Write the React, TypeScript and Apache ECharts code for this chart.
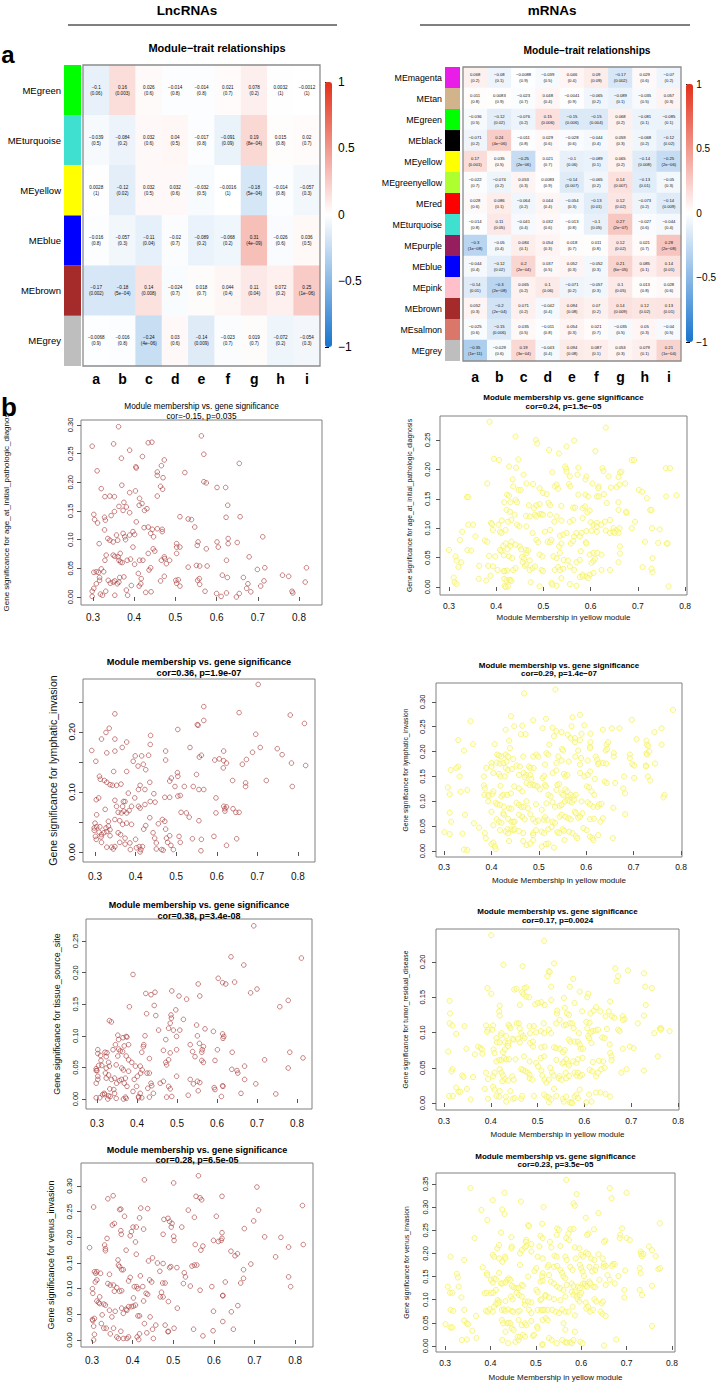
import React, { useEffect, useRef } from "react";
import * as echarts from "echarts";

const FONT = '"Liberation Sans", Arial, Helvetica, sans-serif';

// ---------------- Heatmap data ----------------
const traitLabels = ["a", "b", "c", "d", "e", "f", "g", "h", "i"];
const colorbarColors = ["#1874CD", "#FFFFFF", "#E3301A"];

const lncModules = ["MEgreen", "MEturquoise", "MEyellow", "MEblue", "MEbrown", "MEgrey"];
const lncModuleColors = ["#00FF00", "#40E0D0", "#FFFF00", "#0000FF", "#A52A2A", "#BEBEBE"];
const lncCor = [
  [-0.1, 0.16, 0.026, -0.014, -0.014, 0.021, 0.078, 0.0032, -0.0012],
  [-0.039, -0.084, 0.032, 0.04, -0.017, -0.091, 0.19, 0.015, 0.02],
  [0.0028, -0.12, 0.032, 0.032, -0.032, -0.0016, -0.18, -0.014, -0.057],
  [-0.016, -0.057, -0.11, -0.02, -0.089, -0.068, 0.31, -0.026, 0.036],
  [-0.17, -0.18, 0.14, -0.024, 0.018, 0.044, 0.11, 0.072, 0.25],
  [-0.0068, -0.016, -0.24, 0.03, -0.14, -0.023, 0.019, -0.072, -0.054],
];
const lncP = [
  ["0.06", "0.003", "0.6", "0.8", "0.8", "0.7", "0.2", "1", "1"],
  ["0.5", "0.2", "0.6", "0.5", "0.8", "0.09", "8e-04", "0.8", "0.7"],
  ["1", "0.02", "0.5", "0.6", "0.5", "1", "5e-04", "0.8", "0.3"],
  ["0.8", "0.3", "0.04", "0.7", "0.2", "0.2", "4e-09", "0.6", "0.5"],
  ["0.002", "5e-04", "0.008", "0.7", "0.7", "0.4", "0.04", "0.2", "1e-06"],
  ["0.9", "0.8", "4e-06", "0.6", "0.009", "0.7", "0.7", "0.2", "0.3"],
];

const mrnaModules = ["MEmagenta", "MEtan", "MEgreen", "MEblack", "MEyellow", "MEgreenyellow", "MEred",
  "MEturquoise", "MEpurple", "MEblue", "MEpink", "MEbrown", "MEsalmon", "MEgrey"];
const mrnaModuleColors = ["#E81EE8", "#D2B48C", "#00FF00", "#000000", "#FFFF00", "#ADFF2F", "#FF0000",
  "#40E0D0", "#961E5E", "#0000FF", "#FFC0CB", "#A52A2A", "#D9776A", "#BEBEBE"];
const mrnaCor = [
  [0.068, -0.08, -0.0088, -0.039, 0.046, 0.09, -0.17, 0.029, -0.07],
  [0.011, 0.0083, -0.023, 0.048, -0.0041, -0.065, -0.089, -0.035, 0.057],
  [-0.036, -0.12, -0.076, 0.15, -0.15, -0.15, 0.068, -0.081, -0.085],
  [-0.071, 0.24, -0.011, 0.029, -0.028, -0.044, 0.059, -0.068, -0.12],
  [0.17, 0.035, -0.25, 0.021, -0.1, -0.089, 0.065, -0.14, -0.25],
  [-0.022, -0.074, 0.053, 0.0083, -0.14, -0.065, 0.14, -0.13, -0.05],
  [0.028, 0.086, -0.064, 0.044, -0.054, -0.13, 0.12, -0.073, -0.14],
  [-0.014, 0.11, -0.041, 0.032, -0.013, -0.1, 0.27, -0.027, -0.044],
  [-0.3, -0.05, 0.084, 0.054, 0.018, 0.011, 0.12, 0.021, 0.28],
  [-0.044, -0.12, 0.2, 0.037, 0.052, -0.052, 0.21, 0.085, 0.14],
  [-0.14, -0.3, 0.065, 0.1, -0.071, -0.057, 0.1, 0.013, 0.028],
  [0.052, -0.2, 0.071, -0.042, 0.094, 0.07, 0.14, 0.12, 0.13],
  [-0.025, -0.15, 0.035, -0.011, 0.054, 0.021, -0.035, 0.05, -0.04],
  [-0.35, -0.029, 0.19, -0.043, 0.094, 0.087, 0.053, 0.079, 0.21],
];
const mrnaP = [
  ["0.2", "0.1", "0.9", "0.5", "0.4", "0.09", "0.002", "0.6", "0.2"],
  ["0.8", "0.9", "0.7", "0.4", "0.9", "0.2", "0.1", "0.5", "0.3"],
  ["0.5", "0.02", "0.2", "0.006", "0.006", "0.004", "0.2", "0.1", "0.1"],
  ["0.2", "4e-06", "0.8", "0.6", "0.6", "0.4", "0.3", "0.2", "0.02"],
  ["0.001", "0.5", "2e-06", "0.7", "0.06", "0.1", "0.2", "0.008", "2e-06"],
  ["0.7", "0.2", "0.3", "0.9", "0.007", "0.2", "0.007", "0.01", "0.3"],
  ["0.6", "0.1", "0.2", "0.4", "0.3", "0.01", "0.02", "0.2", "0.009"],
  ["0.8", "0.05", "0.4", "0.6", "0.8", "0.05", "2e-07", "0.6", "0.4"],
  ["1e-08", "0.4", "0.1", "0.3", "0.7", "0.8", "0.02", "0.7", "2e-08"],
  ["0.4", "0.02", "2e-04", "0.5", "0.3", "0.3", "6e-05", "0.1", "0.01"],
  ["0.01", "2e-08", "0.2", "0.06", "0.2", "0.3", "0.05", "0.8", "0.6"],
  ["0.3", "2e-04", "0.2", "0.4", "0.08", "0.2", "0.009", "0.02", "0.01"],
  ["0.6", "0.006", "0.5", "0.8", "0.3", "0.7", "0.5", "0.3", "0.5"],
  ["1e-11", "0.6", "3e-04", "0.4", "0.08", "0.1", "0.3", "0.1", "1e-04"],
];

// ---------------- Scatter data (module membership, gene significance) ----------------
const scatterXTicks = [0.3, 0.4, 0.5, 0.6, 0.7, 0.8];

const lncAgeData = [[0.362,0.297],[0.298,0.263],[0.350,0.267],[0.434,0.269],[0.443,0.270],[0.563,0.281],[0.569,0.249],[0.310,0.220],[0.369,0.242],[0.389,0.256],[0.420,0.245],[0.404,0.227],[0.405,0.225],[0.473,0.239],[0.466,0.229],[0.456,0.218],[0.456,0.212],[0.470,0.208],[0.523,0.217],[0.655,0.233],[0.569,0.201],[0.575,0.199],[0.601,0.191],[0.622,0.191],[0.320,0.189],[0.370,0.195],[0.403,0.185],[0.389,0.182],[0.464,0.193],[0.469,0.188],[0.456,0.176],[0.329,0.175],[0.341,0.176],[0.352,0.175],[0.375,0.165],[0.381,0.157],[0.413,0.172],[0.412,0.160],[0.419,0.163],[0.425,0.151],[0.431,0.154],[0.389,0.147],[0.373,0.151],[0.352,0.149],[0.363,0.158],[0.302,0.144],[0.304,0.135],[0.311,0.129],[0.328,0.139],[0.330,0.134],[0.344,0.142],[0.405,0.131],[0.328,0.117],[0.434,0.122],[0.424,0.121],[0.456,0.119],[0.444,0.118],[0.468,0.118],[0.468,0.114],[0.511,0.140],[0.531,0.136],[0.539,0.135],[0.547,0.122],[0.623,0.139],[0.657,0.140],[0.627,0.160],[0.712,0.105],[0.315,0.093],[0.336,0.102],[0.341,0.099],[0.349,0.096],[0.357,0.108],[0.360,0.099],[0.373,0.111],[0.377,0.105],[0.379,0.100],[0.389,0.108],[0.397,0.114],[0.401,0.109],[0.366,0.076],[0.363,0.064],[0.361,0.070],[0.332,0.073],[0.349,0.073],[0.353,0.071],[0.329,0.064],[0.367,0.061],[0.371,0.060],[0.383,0.064],[0.391,0.066],[0.401,0.057],[0.413,0.064],[0.421,0.064],[0.397,0.087],[0.434,0.076],[0.446,0.084],[0.450,0.080],[0.440,0.111],[0.447,0.105],[0.473,0.070],[0.466,0.064],[0.474,0.067],[0.478,0.058],[0.486,0.064],[0.503,0.093],[0.503,0.087],[0.503,0.076],[0.511,0.087],[0.555,0.096],[0.553,0.090],[0.575,0.084],[0.601,0.096],[0.604,0.087],[0.628,0.102],[0.628,0.093],[0.624,0.064],[0.650,0.095],[0.679,0.070],[0.531,0.052],[0.551,0.055],[0.559,0.054],[0.577,0.054],[0.302,0.043],[0.308,0.044],[0.313,0.043],[0.320,0.049],[0.326,0.044],[0.316,0.034],[0.316,0.029],[0.308,0.023],[0.302,0.015],[0.298,0.010],[0.298,0.001],[0.318,0.005],[0.323,0.003],[0.331,0.010],[0.342,0.024],[0.353,0.028],[0.337,0.029],[0.349,0.026],[0.359,0.023],[0.363,0.026],[0.353,0.003],[0.365,0.034],[0.375,0.035],[0.381,0.012],[0.384,0.003],[0.393,0.020],[0.410,0.041],[0.417,0.032],[0.412,0.019],[0.416,0.023],[0.428,0.008],[0.441,0.009],[0.436,0.047],[0.440,0.051],[0.464,0.028],[0.473,0.036],[0.501,0.029],[0.503,0.024],[0.507,0.030],[0.511,0.019],[0.554,0.029],[0.558,0.032],[0.559,0.022],[0.572,0.010],[0.600,0.006],[0.611,0.001],[0.614,0.038],[0.626,0.034],[0.624,0.007],[0.655,0.006],[0.648,0.000],[0.665,0.034],[0.676,0.023],[0.683,0.009],[0.673,0.015],[0.699,0.048],[0.707,0.019],[0.715,0.028],[0.717,0.051],[0.760,0.038],[0.775,0.036],[0.783,0.010],[0.785,0.007],[0.818,0.051],[0.815,0.026]];

const lncLymphData = [[0.292,0.169],[0.302,0.151],[0.349,0.230],[0.316,0.188],[0.327,0.199],[0.335,0.206],[0.349,0.188],[0.329,0.165],[0.349,0.168],[0.367,0.174],[0.378,0.183],[0.378,0.134],[0.346,0.134],[0.311,0.126],[0.313,0.121],[0.323,0.119],[0.329,0.116],[0.337,0.112],[0.343,0.111],[0.353,0.111],[0.364,0.113],[0.309,0.090],[0.303,0.087],[0.325,0.071],[0.304,0.062],[0.349,0.086],[0.353,0.076],[0.370,0.084],[0.374,0.084],[0.368,0.076],[0.382,0.098],[0.390,0.076],[0.398,0.090],[0.407,0.076],[0.411,0.073],[0.399,0.160],[0.415,0.160],[0.432,0.161],[0.394,0.151],[0.406,0.143],[0.419,0.146],[0.425,0.137],[0.437,0.194],[0.436,0.179],[0.435,0.116],[0.411,0.111],[0.407,0.104],[0.423,0.104],[0.445,0.097],[0.436,0.084],[0.448,0.083],[0.423,0.079],[0.357,0.066],[0.365,0.065],[0.371,0.068],[0.378,0.065],[0.384,0.069],[0.333,0.051],[0.349,0.054],[0.361,0.052],[0.368,0.046],[0.378,0.048],[0.390,0.046],[0.300,0.048],[0.304,0.042],[0.312,0.042],[0.298,0.040],[0.298,0.036],[0.310,0.033],[0.316,0.029],[0.315,0.025],[0.301,0.026],[0.303,0.021],[0.327,0.040],[0.333,0.043],[0.337,0.037],[0.322,0.032],[0.329,0.034],[0.337,0.027],[0.316,0.016],[0.329,0.008],[0.341,0.008],[0.345,0.005],[0.349,0.009],[0.357,0.032],[0.363,0.029],[0.374,0.023],[0.361,0.016],[0.374,0.013],[0.386,0.015],[0.387,0.004],[0.400,0.021],[0.402,0.007],[0.409,0.009],[0.413,0.004],[0.417,0.009],[0.411,0.000],[0.420,0.038],[0.425,0.044],[0.435,0.057],[0.443,0.032],[0.447,0.023],[0.451,0.015],[0.451,0.005],[0.464,0.004],[0.468,0.003],[0.456,0.047],[0.466,0.054],[0.472,0.051],[0.474,0.038],[0.476,0.023],[0.479,0.016],[0.484,0.027],[0.487,0.011],[0.493,0.004],[0.472,0.091],[0.484,0.091],[0.484,0.118],[0.488,0.123],[0.474,0.153],[0.474,0.168],[0.503,0.132],[0.504,0.126],[0.497,0.109],[0.504,0.093],[0.510,0.094],[0.504,0.204],[0.520,0.109],[0.512,0.066],[0.507,0.026],[0.510,0.016],[0.525,0.065],[0.532,0.058],[0.534,0.174],[0.542,0.109],[0.550,0.129],[0.557,0.158],[0.552,0.212],[0.554,0.211],[0.562,0.161],[0.568,0.242],[0.568,0.219],[0.556,0.104],[0.568,0.104],[0.556,0.052],[0.540,0.022],[0.562,0.021],[0.561,0.002],[0.595,0.153],[0.606,0.155],[0.617,0.152],[0.617,0.168],[0.616,0.140],[0.624,0.148],[0.598,0.090],[0.598,0.065],[0.617,0.076],[0.620,0.072],[0.620,0.068],[0.624,0.075],[0.593,0.026],[0.624,0.011],[0.639,0.119],[0.640,0.072],[0.647,0.066],[0.655,0.066],[0.649,0.022],[0.655,0.232],[0.663,0.146],[0.673,0.154],[0.671,0.115],[0.671,0.109],[0.688,0.166],[0.696,0.196],[0.702,0.279],[0.707,0.174],[0.722,0.119],[0.749,0.172],[0.761,0.162],[0.781,0.228],[0.784,0.148],[0.786,0.109],[0.816,0.214],[0.819,0.144]];

const lncTissueData = [[0.298,0.002],[0.307,0.002],[0.314,0.007],[0.298,0.025],[0.302,0.031],[0.302,0.036],[0.300,0.045],[0.298,0.045],[0.298,0.048],[0.304,0.053],[0.312,0.053],[0.302,0.078],[0.302,0.072],[0.309,0.069],[0.320,0.074],[0.325,0.073],[0.323,0.067],[0.310,0.061],[0.323,0.049],[0.321,0.041],[0.323,0.033],[0.319,0.007],[0.329,0.005],[0.327,0.000],[0.318,0.009],[0.333,0.004],[0.331,0.124],[0.336,0.122],[0.329,0.058],[0.331,0.052],[0.329,0.038],[0.336,0.031],[0.332,0.016],[0.342,0.015],[0.344,0.009],[0.348,0.001],[0.340,0.078],[0.346,0.086],[0.352,0.101],[0.354,0.094],[0.348,0.054],[0.352,0.068],[0.354,0.079],[0.358,0.076],[0.344,0.033],[0.349,0.025],[0.356,0.029],[0.365,0.097],[0.368,0.084],[0.373,0.099],[0.375,0.098],[0.379,0.086],[0.364,0.075],[0.373,0.068],[0.379,0.062],[0.362,0.049],[0.366,0.046],[0.371,0.033],[0.379,0.044],[0.361,0.031],[0.368,0.025],[0.375,0.020],[0.366,0.000],[0.373,0.001],[0.371,0.003],[0.381,0.146],[0.390,0.197],[0.387,0.058],[0.393,0.031],[0.390,0.012],[0.396,0.052],[0.401,0.036],[0.399,0.020],[0.404,0.004],[0.408,0.009],[0.412,0.002],[0.404,0.002],[0.408,0.052],[0.413,0.046],[0.409,0.041],[0.412,0.074],[0.416,0.083],[0.417,0.086],[0.420,0.100],[0.422,0.167],[0.424,0.135],[0.435,0.165],[0.445,0.169],[0.443,0.148],[0.447,0.132],[0.425,0.041],[0.431,0.041],[0.435,0.025],[0.437,0.021],[0.441,0.009],[0.431,0.003],[0.427,0.017],[0.431,0.064],[0.454,0.109],[0.458,0.025],[0.466,0.028],[0.466,0.077],[0.472,0.094],[0.474,0.054],[0.472,0.058],[0.479,0.062],[0.483,0.073],[0.479,0.020],[0.483,0.016],[0.474,0.003],[0.487,0.004],[0.487,0.171],[0.485,0.133],[0.486,0.128],[0.483,0.120],[0.479,0.112],[0.491,0.109],[0.497,0.141],[0.499,0.099],[0.499,0.078],[0.505,0.163],[0.507,0.109],[0.499,0.036],[0.516,0.126],[0.524,0.158],[0.528,0.006],[0.533,0.086],[0.539,0.075],[0.545,0.067],[0.533,0.031],[0.541,0.024],[0.551,0.028],[0.553,0.182],[0.557,0.163],[0.549,0.117],[0.551,0.100],[0.556,0.088],[0.553,0.013],[0.557,0.026],[0.562,0.074],[0.563,0.078],[0.566,0.083],[0.562,0.061],[0.566,0.058],[0.570,0.111],[0.591,0.107],[0.595,0.061],[0.593,0.018],[0.595,0.015],[0.603,0.191],[0.601,0.078],[0.614,0.103],[0.617,0.099],[0.615,0.096],[0.614,0.184],[0.622,0.182],[0.614,0.021],[0.615,0.020],[0.611,0.004],[0.635,0.225],[0.638,0.074],[0.637,0.047],[0.644,0.185],[0.650,0.045],[0.652,0.041],[0.660,0.009],[0.667,0.212],[0.669,0.052],[0.669,0.031],[0.684,0.168],[0.700,0.174],[0.697,0.024],[0.719,0.062],[0.747,0.008],[0.757,0.146],[0.778,0.156],[0.778,0.049],[0.782,0.074],[0.811,0.223],[0.815,0.065],[0.692,0.274]];

const lncVenusData = [[0.294,0.180],[0.301,0.100],[0.302,0.091],[0.304,0.259],[0.306,0.133],[0.312,0.133],[0.309,0.130],[0.308,0.113],[0.312,0.117],[0.312,0.076],[0.316,0.073],[0.319,0.071],[0.301,0.040],[0.302,0.038],[0.306,0.042],[0.304,0.027],[0.306,0.011],[0.304,0.000],[0.319,0.084],[0.321,0.130],[0.323,0.032],[0.325,0.049],[0.329,0.070],[0.333,0.068],[0.329,0.023],[0.335,0.023],[0.331,0.185],[0.333,0.178],[0.333,0.174],[0.337,0.198],[0.339,0.275],[0.352,0.281],[0.339,0.110],[0.345,0.107],[0.343,0.128],[0.343,0.058],[0.349,0.045],[0.345,0.012],[0.350,0.224],[0.355,0.227],[0.353,0.107],[0.355,0.095],[0.361,0.102],[0.353,0.023],[0.357,0.056],[0.364,0.156],[0.365,0.146],[0.368,0.143],[0.368,0.254],[0.371,0.255],[0.371,0.213],[0.372,0.206],[0.368,0.095],[0.373,0.096],[0.361,0.006],[0.365,0.003],[0.371,0.017],[0.373,0.062],[0.377,0.052],[0.386,0.058],[0.384,0.060],[0.373,0.137],[0.377,0.137],[0.380,0.241],[0.384,0.175],[0.377,0.003],[0.386,0.003],[0.390,0.006],[0.390,0.065],[0.397,0.065],[0.394,0.203],[0.397,0.211],[0.394,0.122],[0.390,0.115],[0.401,0.220],[0.409,0.220],[0.404,0.104],[0.410,0.104],[0.413,0.100],[0.402,0.082],[0.407,0.191],[0.409,0.167],[0.402,0.066],[0.407,0.068],[0.413,0.047],[0.417,0.047],[0.411,0.006],[0.415,0.001],[0.417,0.012],[0.417,0.238],[0.420,0.257],[0.419,0.125],[0.425,0.104],[0.427,0.216],[0.429,0.312],[0.427,0.076],[0.429,0.032],[0.437,0.256],[0.433,0.091],[0.437,0.089],[0.435,0.014],[0.439,0.154],[0.442,0.117],[0.443,0.045],[0.447,0.113],[0.449,0.160],[0.449,0.021],[0.451,0.003],[0.457,0.029],[0.461,0.150],[0.467,0.134],[0.468,0.084],[0.475,0.084],[0.471,0.093],[0.475,0.149],[0.474,0.111],[0.480,0.111],[0.475,0.206],[0.477,0.235],[0.480,0.029],[0.487,0.237],[0.491,0.231],[0.497,0.227],[0.495,0.220],[0.488,0.075],[0.488,0.017],[0.487,0.016],[0.491,0.141],[0.494,0.143],[0.501,0.306],[0.501,0.202],[0.502,0.194],[0.502,0.023],[0.509,0.141],[0.510,0.062],[0.521,0.220],[0.527,0.131],[0.530,0.123],[0.525,0.110],[0.537,0.253],[0.542,0.105],[0.546,0.144],[0.552,0.146],[0.552,0.239],[0.554,0.186],[0.550,0.021],[0.556,0.280],[0.558,0.146],[0.562,0.320],[0.566,0.277],[0.570,0.273],[0.566,0.097],[0.568,0.175],[0.573,0.183],[0.573,0.008],[0.595,0.104],[0.599,0.194],[0.599,0.056],[0.598,0.018],[0.606,0.241],[0.611,0.192],[0.620,0.198],[0.618,0.194],[0.620,0.280],[0.620,0.209],[0.622,0.087],[0.622,0.086],[0.622,0.036],[0.628,0.113],[0.642,0.173],[0.643,0.055],[0.648,0.021],[0.652,0.164],[0.658,0.168],[0.659,0.067],[0.666,0.111],[0.673,0.137],[0.673,0.120],[0.675,0.217],[0.691,0.148],[0.698,0.232],[0.706,0.298],[0.710,0.253],[0.725,0.201],[0.752,0.162],[0.765,0.200],[0.784,0.181],[0.784,0.123],[0.789,0.104],[0.818,0.262],[0.820,0.186]];

const mrnaAgeData = [[0.386,0.281],[0.632,0.271],[0.441,0.256],[0.484,0.250],[0.487,0.244],[0.565,0.249],[0.512,0.233],[0.533,0.227],[0.549,0.239],[0.610,0.231],[0.395,0.218],[0.406,0.216],[0.447,0.217],[0.458,0.191],[0.427,0.205],[0.442,0.203],[0.687,0.216],[0.692,0.216],[0.759,0.202],[0.768,0.202],[0.435,0.183],[0.381,0.176],[0.519,0.195],[0.546,0.205],[0.548,0.201],[0.549,0.196],[0.574,0.203],[0.572,0.191],[0.556,0.188],[0.591,0.188],[0.589,0.183],[0.625,0.202],[0.627,0.197],[0.604,0.176],[0.638,0.188],[0.659,0.187],[0.662,0.195],[0.665,0.196],[0.643,0.169],[0.655,0.170],[0.661,0.174],[0.673,0.176],[0.617,0.171],[0.616,0.168],[0.436,0.171],[0.447,0.165],[0.452,0.165],[0.464,0.176],[0.478,0.175],[0.492,0.168],[0.499,0.160],[0.507,0.158],[0.524,0.171],[0.528,0.174],[0.531,0.167],[0.554,0.175],[0.557,0.171],[0.574,0.157],[0.589,0.157],[0.595,0.154],[0.613,0.154],[0.617,0.154],[0.628,0.158],[0.702,0.165],[0.709,0.162],[0.719,0.151],[0.760,0.154],[0.782,0.156],[0.338,0.153],[0.341,0.153],[0.423,0.157],[0.427,0.155],[0.417,0.144],[0.430,0.144],[0.441,0.148],[0.444,0.144],[0.469,0.139],[0.480,0.134],[0.485,0.139],[0.492,0.141],[0.511,0.143],[0.514,0.139],[0.538,0.138],[0.563,0.135],[0.567,0.135],[0.583,0.134],[0.588,0.137],[0.593,0.127],[0.598,0.130],[0.634,0.143],[0.659,0.144],[0.659,0.131],[0.676,0.126],[0.675,0.128],[0.726,0.131],[0.729,0.131],[0.694,0.111],[0.422,0.131],[0.429,0.128],[0.412,0.113],[0.439,0.123],[0.463,0.121],[0.471,0.120],[0.482,0.123],[0.485,0.120],[0.492,0.124],[0.496,0.124],[0.499,0.123],[0.514,0.123],[0.528,0.120],[0.523,0.111],[0.538,0.113],[0.556,0.111],[0.563,0.114],[0.583,0.117],[0.600,0.110],[0.606,0.106],[0.613,0.109],[0.622,0.106],[0.630,0.111],[0.641,0.114],[0.648,0.100],[0.661,0.100],[0.687,0.100],[0.730,0.100],[0.746,0.098],[0.389,0.109],[0.391,0.107],[0.393,0.097],[0.405,0.106],[0.408,0.094],[0.411,0.092],[0.420,0.097],[0.425,0.111],[0.432,0.114],[0.351,0.106],[0.341,0.106],[0.444,0.106],[0.449,0.103],[0.464,0.103],[0.477,0.092],[0.503,0.094],[0.514,0.097],[0.535,0.087],[0.542,0.089],[0.549,0.092],[0.565,0.086],[0.570,0.092],[0.581,0.092],[0.591,0.095],[0.602,0.096],[0.613,0.094],[0.613,0.103],[0.632,0.096],[0.641,0.092],[0.655,0.096],[0.659,0.092],[0.648,0.094],[0.651,0.092],[0.328,0.094],[0.356,0.086],[0.376,0.079],[0.381,0.077],[0.323,0.080],[0.715,0.077],[0.743,0.075],[0.761,0.074],[0.415,0.070],[0.420,0.074],[0.424,0.064],[0.430,0.070],[0.432,0.077],[0.441,0.072],[0.450,0.069],[0.453,0.064],[0.463,0.063],[0.464,0.058],[0.468,0.062],[0.485,0.080],[0.489,0.076],[0.509,0.077],[0.514,0.076],[0.517,0.080],[0.533,0.069],[0.538,0.074],[0.558,0.074],[0.563,0.078],[0.577,0.086],[0.590,0.076],[0.591,0.074],[0.579,0.061],[0.598,0.055],[0.606,0.058],[0.614,0.058],[0.623,0.055],[0.662,0.069],[0.411,0.061],[0.408,0.063],[0.416,0.054],[0.339,0.063],[0.347,0.062],[0.385,0.053],[0.398,0.052],[0.427,0.052],[0.434,0.049],[0.455,0.051],[0.459,0.048],[0.471,0.045],[0.492,0.055],[0.498,0.052],[0.521,0.052],[0.528,0.049],[0.535,0.058],[0.543,0.046],[0.552,0.045],[0.570,0.042],[0.577,0.046],[0.602,0.041],[0.606,0.044],[0.609,0.048],[0.659,0.042],[0.662,0.057],[0.731,0.049],[0.314,0.052],[0.316,0.045],[0.320,0.034],[0.326,0.042],[0.364,0.036],[0.383,0.036],[0.393,0.035],[0.403,0.029],[0.418,0.027],[0.423,0.028],[0.436,0.029],[0.441,0.032],[0.456,0.042],[0.461,0.036],[0.464,0.038],[0.471,0.029],[0.477,0.032],[0.482,0.035],[0.496,0.029],[0.499,0.027],[0.524,0.029],[0.531,0.034],[0.535,0.029],[0.542,0.031],[0.556,0.035],[0.565,0.029],[0.583,0.021],[0.591,0.018],[0.598,0.021],[0.606,0.024],[0.623,0.029],[0.641,0.029],[0.710,0.034],[0.729,0.031],[0.731,0.025],[0.363,0.014],[0.310,0.016],[0.312,0.008],[0.316,0.005],[0.379,0.011],[0.388,0.019],[0.416,0.027],[0.417,0.014],[0.422,0.011],[0.428,0.012],[0.418,0.002],[0.425,0.001],[0.420,0.000],[0.430,0.012],[0.432,0.010],[0.473,0.008],[0.492,0.001],[0.517,0.007],[0.528,0.002],[0.519,0.004],[0.538,0.015],[0.556,0.005],[0.570,0.002],[0.577,0.017],[0.583,0.018],[0.595,0.015],[0.765,0.001],[0.763,0.074],[0.300,0.063]];

const mrnaLymphData = [[0.535,0.325],[0.469,0.317],[0.783,0.284],[0.441,0.271],[0.571,0.269],[0.587,0.274],[0.515,0.266],[0.696,0.264],[0.356,0.261],[0.488,0.263],[0.465,0.252],[0.448,0.251],[0.508,0.247],[0.529,0.248],[0.537,0.241],[0.548,0.239],[0.569,0.251],[0.596,0.253],[0.635,0.244],[0.654,0.247],[0.670,0.247],[0.759,0.247],[0.744,0.239],[0.430,0.244],[0.462,0.235],[0.472,0.235],[0.532,0.231],[0.561,0.234],[0.567,0.227],[0.576,0.227],[0.590,0.236],[0.609,0.236],[0.330,0.223],[0.361,0.215],[0.407,0.215],[0.437,0.222],[0.522,0.214],[0.576,0.219],[0.587,0.223],[0.609,0.219],[0.608,0.210],[0.643,0.214],[0.646,0.219],[0.706,0.225],[0.727,0.222],[0.728,0.214],[0.731,0.211],[0.759,0.214],[0.342,0.202],[0.439,0.207],[0.412,0.194],[0.416,0.192],[0.421,0.190],[0.430,0.194],[0.435,0.190],[0.446,0.185],[0.467,0.190],[0.488,0.190],[0.495,0.194],[0.499,0.190],[0.516,0.197],[0.520,0.194],[0.549,0.205],[0.551,0.202],[0.583,0.202],[0.608,0.207],[0.641,0.202],[0.644,0.205],[0.658,0.197],[0.658,0.190],[0.692,0.194],[0.692,0.187],[0.727,0.197],[0.728,0.194],[0.733,0.200],[0.541,0.190],[0.548,0.182],[0.577,0.190],[0.589,0.187],[0.563,0.180],[0.603,0.182],[0.620,0.190],[0.623,0.184],[0.400,0.177],[0.411,0.178],[0.418,0.176],[0.425,0.177],[0.432,0.180],[0.330,0.170],[0.326,0.167],[0.314,0.163],[0.389,0.167],[0.384,0.150],[0.400,0.170],[0.453,0.172],[0.460,0.170],[0.479,0.170],[0.482,0.167],[0.489,0.167],[0.513,0.174],[0.537,0.177],[0.587,0.174],[0.625,0.175],[0.627,0.178],[0.635,0.177],[0.642,0.176],[0.697,0.175],[0.701,0.172],[0.726,0.172],[0.726,0.170],[0.745,0.176],[0.333,0.150],[0.404,0.157],[0.430,0.167],[0.435,0.163],[0.443,0.165],[0.416,0.155],[0.419,0.150],[0.428,0.150],[0.458,0.153],[0.468,0.157],[0.473,0.153],[0.470,0.149],[0.482,0.153],[0.484,0.145],[0.508,0.147],[0.511,0.151],[0.529,0.157],[0.537,0.162],[0.553,0.155],[0.556,0.150],[0.560,0.153],[0.587,0.157],[0.596,0.150],[0.608,0.160],[0.603,0.153],[0.618,0.145],[0.639,0.140],[0.643,0.137],[0.661,0.137],[0.680,0.150],[0.701,0.147],[0.730,0.150],[0.735,0.142],[0.308,0.128],[0.312,0.114],[0.335,0.119],[0.349,0.123],[0.384,0.132],[0.386,0.126],[0.385,0.113],[0.393,0.113],[0.394,0.110],[0.402,0.115],[0.404,0.120],[0.419,0.131],[0.421,0.110],[0.425,0.113],[0.433,0.113],[0.441,0.116],[0.448,0.130],[0.458,0.126],[0.465,0.120],[0.474,0.137],[0.480,0.133],[0.488,0.133],[0.492,0.132],[0.497,0.130],[0.502,0.124],[0.513,0.133],[0.515,0.130],[0.520,0.113],[0.525,0.110],[0.537,0.123],[0.539,0.133],[0.543,0.135],[0.548,0.116],[0.551,0.113],[0.556,0.124],[0.560,0.120],[0.562,0.110],[0.567,0.113],[0.573,0.110],[0.578,0.113],[0.601,0.130],[0.606,0.128],[0.611,0.120],[0.617,0.113],[0.678,0.126],[0.682,0.116],[0.765,0.113],[0.763,0.108],[0.393,0.100],[0.409,0.097],[0.412,0.094],[0.418,0.093],[0.426,0.089],[0.437,0.086],[0.442,0.085],[0.453,0.097],[0.458,0.093],[0.463,0.089],[0.468,0.089],[0.474,0.100],[0.477,0.086],[0.494,0.094],[0.506,0.083],[0.516,0.096],[0.529,0.098],[0.534,0.089],[0.544,0.091],[0.548,0.093],[0.555,0.100],[0.560,0.103],[0.565,0.100],[0.570,0.098],[0.574,0.103],[0.590,0.100],[0.603,0.098],[0.608,0.094],[0.615,0.089],[0.624,0.089],[0.627,0.094],[0.632,0.095],[0.657,0.087],[0.312,0.077],[0.315,0.059],[0.344,0.073],[0.363,0.056],[0.374,0.047],[0.386,0.036],[0.400,0.079],[0.411,0.064],[0.416,0.059],[0.421,0.057],[0.425,0.076],[0.426,0.073],[0.435,0.065],[0.442,0.059],[0.446,0.059],[0.449,0.059],[0.458,0.073],[0.465,0.069],[0.470,0.064],[0.482,0.074],[0.488,0.064],[0.493,0.059],[0.499,0.061],[0.511,0.063],[0.513,0.068],[0.518,0.063],[0.529,0.059],[0.534,0.057],[0.544,0.069],[0.548,0.073],[0.556,0.069],[0.562,0.066],[0.567,0.064],[0.576,0.079],[0.578,0.076],[0.583,0.067],[0.587,0.069],[0.592,0.076],[0.608,0.064],[0.616,0.065],[0.630,0.059],[0.635,0.066],[0.682,0.074],[0.404,0.052],[0.418,0.042],[0.430,0.039],[0.435,0.036],[0.434,0.044],[0.442,0.044],[0.446,0.042],[0.449,0.044],[0.458,0.040],[0.467,0.036],[0.488,0.036],[0.488,0.032],[0.494,0.042],[0.506,0.039],[0.511,0.036],[0.520,0.044],[0.527,0.048],[0.539,0.038],[0.543,0.036],[0.550,0.044],[0.553,0.041],[0.564,0.039],[0.571,0.036],[0.594,0.046],[0.601,0.042],[0.608,0.029],[0.613,0.026],[0.625,0.032],[0.656,0.026],[0.301,0.038],[0.312,0.034],[0.339,0.035],[0.342,0.003],[0.349,0.002],[0.388,0.026],[0.400,0.014],[0.404,0.017],[0.407,0.009],[0.409,0.004],[0.437,0.020],[0.467,0.020],[0.474,0.012],[0.482,0.015],[0.488,0.022],[0.506,0.009],[0.515,0.014],[0.520,0.015],[0.532,0.007],[0.554,0.022],[0.578,0.030],[0.581,0.026],[0.615,0.022]];

const mrnaTumorData = [[0.401,0.238],[0.514,0.230],[0.535,0.198],[0.427,0.196],[0.468,0.194],[0.524,0.187],[0.526,0.186],[0.521,0.180],[0.576,0.176],[0.666,0.191],[0.693,0.188],[0.672,0.180],[0.669,0.173],[0.727,0.184],[0.730,0.165],[0.744,0.163],[0.393,0.163],[0.401,0.155],[0.450,0.161],[0.455,0.162],[0.472,0.163],[0.476,0.164],[0.467,0.157],[0.470,0.154],[0.476,0.151],[0.482,0.150],[0.529,0.165],[0.569,0.165],[0.556,0.149],[0.590,0.158],[0.608,0.155],[0.606,0.150],[0.655,0.144],[0.312,0.145],[0.313,0.127],[0.419,0.138],[0.462,0.139],[0.495,0.140],[0.501,0.142],[0.508,0.143],[0.515,0.139],[0.529,0.146],[0.558,0.135],[0.541,0.127],[0.563,0.127],[0.567,0.125],[0.542,0.131],[0.579,0.142],[0.595,0.130],[0.613,0.127],[0.620,0.131],[0.625,0.136],[0.634,0.130],[0.645,0.123],[0.652,0.130],[0.659,0.123],[0.664,0.121],[0.682,0.123],[0.686,0.119],[0.727,0.124],[0.731,0.139],[0.418,0.130],[0.419,0.124],[0.312,0.113],[0.318,0.110],[0.326,0.098],[0.344,0.109],[0.390,0.110],[0.394,0.104],[0.392,0.101],[0.405,0.110],[0.421,0.096],[0.423,0.099],[0.438,0.111],[0.440,0.109],[0.442,0.106],[0.433,0.095],[0.455,0.113],[0.460,0.113],[0.465,0.099],[0.469,0.095],[0.472,0.092],[0.462,0.106],[0.484,0.099],[0.483,0.109],[0.492,0.109],[0.497,0.100],[0.507,0.102],[0.513,0.113],[0.514,0.099],[0.524,0.104],[0.529,0.099],[0.540,0.113],[0.547,0.118],[0.556,0.110],[0.561,0.111],[0.569,0.113],[0.574,0.113],[0.577,0.106],[0.588,0.099],[0.604,0.115],[0.611,0.114],[0.606,0.106],[0.613,0.100],[0.618,0.102],[0.624,0.103],[0.629,0.104],[0.638,0.093],[0.643,0.092],[0.648,0.105],[0.672,0.104],[0.675,0.102],[0.682,0.118],[0.714,0.113],[0.749,0.099],[0.761,0.106],[0.764,0.106],[0.763,0.104],[0.782,0.102],[0.403,0.104],[0.412,0.092],[0.413,0.086],[0.419,0.086],[0.430,0.086],[0.437,0.085],[0.437,0.081],[0.446,0.091],[0.449,0.090],[0.458,0.091],[0.462,0.086],[0.484,0.085],[0.490,0.087],[0.490,0.080],[0.508,0.079],[0.515,0.080],[0.535,0.079],[0.540,0.078],[0.547,0.077],[0.554,0.072],[0.558,0.075],[0.567,0.090],[0.570,0.087],[0.579,0.087],[0.586,0.087],[0.590,0.083],[0.592,0.077],[0.597,0.077],[0.608,0.095],[0.610,0.092],[0.615,0.085],[0.654,0.083],[0.655,0.071],[0.658,0.066],[0.658,0.061],[0.682,0.077],[0.697,0.080],[0.705,0.078],[0.309,0.073],[0.348,0.077],[0.366,0.069],[0.373,0.080],[0.378,0.078],[0.381,0.076],[0.382,0.070],[0.406,0.076],[0.408,0.071],[0.412,0.059],[0.418,0.061],[0.423,0.061],[0.428,0.064],[0.433,0.062],[0.426,0.072],[0.430,0.076],[0.439,0.062],[0.453,0.062],[0.471,0.066],[0.483,0.059],[0.497,0.057],[0.501,0.052],[0.507,0.064],[0.514,0.066],[0.527,0.050],[0.540,0.061],[0.553,0.056],[0.556,0.058],[0.561,0.062],[0.565,0.056],[0.567,0.053],[0.576,0.059],[0.583,0.057],[0.586,0.062],[0.596,0.064],[0.618,0.058],[0.631,0.060],[0.640,0.059],[0.318,0.048],[0.316,0.045],[0.339,0.039],[0.342,0.037],[0.362,0.037],[0.390,0.043],[0.394,0.034],[0.405,0.038],[0.408,0.043],[0.419,0.048],[0.423,0.043],[0.426,0.039],[0.425,0.031],[0.430,0.034],[0.437,0.032],[0.446,0.038],[0.449,0.033],[0.465,0.048],[0.469,0.047],[0.474,0.045],[0.479,0.043],[0.483,0.040],[0.483,0.035],[0.489,0.033],[0.508,0.046],[0.510,0.039],[0.515,0.033],[0.519,0.029],[0.524,0.033],[0.531,0.043],[0.534,0.039],[0.545,0.035],[0.547,0.038],[0.551,0.033],[0.560,0.043],[0.561,0.035],[0.567,0.038],[0.579,0.043],[0.583,0.039],[0.586,0.043],[0.591,0.038],[0.595,0.040],[0.611,0.047],[0.617,0.045],[0.625,0.038],[0.629,0.043],[0.636,0.048],[0.643,0.050],[0.679,0.043],[0.690,0.048],[0.727,0.046],[0.757,0.066],[0.311,0.010],[0.319,0.010],[0.326,0.022],[0.331,0.016],[0.335,0.016],[0.349,0.020],[0.357,0.005],[0.387,0.020],[0.394,0.006],[0.405,0.023],[0.408,0.019],[0.412,0.010],[0.418,0.009],[0.419,0.017],[0.432,0.009],[0.433,0.002],[0.442,0.017],[0.447,0.006],[0.451,0.007],[0.465,0.006],[0.467,0.010],[0.492,0.010],[0.514,0.012],[0.519,0.009],[0.524,0.008],[0.524,0.001],[0.529,0.005],[0.535,0.020],[0.540,0.010],[0.554,0.006],[0.556,0.002],[0.561,0.009],[0.569,0.001],[0.572,0.001],[0.574,0.000],[0.579,0.009],[0.583,0.012],[0.586,0.007],[0.590,0.019],[0.604,0.001],[0.610,0.012],[0.615,0.002],[0.625,0.015],[0.634,0.015],[0.645,0.013],[0.655,0.009]];

const mrnaVenusData = [[0.567,0.359],[0.356,0.341],[0.663,0.341],[0.431,0.331],[0.700,0.331],[0.590,0.328],[0.405,0.315],[0.467,0.312],[0.667,0.319],[0.517,0.300],[0.583,0.308],[0.586,0.303],[0.380,0.294],[0.426,0.295],[0.431,0.285],[0.638,0.287],[0.393,0.272],[0.610,0.277],[0.514,0.264],[0.483,0.261],[0.485,0.259],[0.547,0.254],[0.576,0.252],[0.583,0.253],[0.628,0.252],[0.546,0.240],[0.551,0.251],[0.616,0.243],[0.613,0.240],[0.572,0.243],[0.423,0.245],[0.446,0.235],[0.365,0.233],[0.510,0.238],[0.515,0.233],[0.479,0.229],[0.478,0.225],[0.567,0.233],[0.573,0.229],[0.531,0.225],[0.653,0.228],[0.650,0.225],[0.707,0.229],[0.700,0.233],[0.773,0.265],[0.690,0.254],[0.686,0.240],[0.685,0.233],[0.731,0.204],[0.732,0.199],[0.734,0.194],[0.749,0.215],[0.756,0.207],[0.737,0.199],[0.764,0.194],[0.415,0.211],[0.419,0.218],[0.447,0.215],[0.446,0.211],[0.476,0.213],[0.479,0.216],[0.490,0.220],[0.469,0.207],[0.508,0.215],[0.534,0.213],[0.554,0.216],[0.586,0.213],[0.596,0.211],[0.611,0.202],[0.615,0.199],[0.638,0.198],[0.647,0.189],[0.312,0.193],[0.342,0.186],[0.405,0.197],[0.408,0.193],[0.419,0.189],[0.426,0.182],[0.432,0.193],[0.433,0.189],[0.465,0.200],[0.490,0.204],[0.504,0.193],[0.515,0.189],[0.541,0.195],[0.546,0.193],[0.565,0.193],[0.568,0.186],[0.588,0.189],[0.600,0.197],[0.604,0.193],[0.622,0.189],[0.629,0.186],[0.633,0.171],[0.650,0.177],[0.654,0.173],[0.670,0.177],[0.674,0.177],[0.668,0.173],[0.697,0.163],[0.729,0.168],[0.731,0.157],[0.770,0.166],[0.774,0.168],[0.756,0.130],[0.306,0.128],[0.311,0.115],[0.316,0.115],[0.326,0.156],[0.328,0.148],[0.330,0.128],[0.342,0.078],[0.336,0.105],[0.383,0.170],[0.392,0.157],[0.393,0.153],[0.401,0.143],[0.405,0.137],[0.408,0.146],[0.412,0.144],[0.419,0.158],[0.423,0.135],[0.426,0.135],[0.433,0.137],[0.437,0.143],[0.440,0.146],[0.444,0.143],[0.447,0.130],[0.451,0.127],[0.457,0.125],[0.462,0.125],[0.469,0.132],[0.472,0.130],[0.465,0.175],[0.483,0.150],[0.497,0.162],[0.501,0.168],[0.515,0.157],[0.514,0.150],[0.526,0.171],[0.528,0.175],[0.529,0.153],[0.540,0.171],[0.547,0.173],[0.554,0.164],[0.558,0.158],[0.561,0.150],[0.565,0.146],[0.576,0.171],[0.581,0.164],[0.597,0.175],[0.600,0.168],[0.603,0.161],[0.606,0.151],[0.618,0.171],[0.624,0.161],[0.631,0.164],[0.649,0.171],[0.658,0.153],[0.663,0.143],[0.682,0.151],[0.510,0.139],[0.515,0.141],[0.533,0.139],[0.540,0.135],[0.547,0.128],[0.553,0.125],[0.561,0.121],[0.568,0.132],[0.579,0.135],[0.583,0.130],[0.586,0.117],[0.593,0.128],[0.597,0.125],[0.604,0.135],[0.608,0.134],[0.610,0.130],[0.613,0.128],[0.618,0.139],[0.620,0.135],[0.627,0.128],[0.631,0.127],[0.640,0.143],[0.654,0.132],[0.674,0.135],[0.695,0.121],[0.729,0.121],[0.695,0.105],[0.734,0.110],[0.387,0.114],[0.392,0.115],[0.401,0.114],[0.406,0.115],[0.412,0.121],[0.416,0.099],[0.419,0.096],[0.433,0.097],[0.445,0.107],[0.449,0.101],[0.458,0.115],[0.463,0.110],[0.469,0.107],[0.476,0.096],[0.483,0.096],[0.490,0.094],[0.501,0.121],[0.504,0.117],[0.510,0.099],[0.512,0.101],[0.521,0.110],[0.522,0.108],[0.529,0.105],[0.540,0.101],[0.554,0.099],[0.565,0.107],[0.579,0.117],[0.583,0.110],[0.590,0.107],[0.592,0.101],[0.596,0.096],[0.597,0.110],[0.600,0.115],[0.610,0.094],[0.629,0.101],[0.633,0.096],[0.645,0.092],[0.648,0.096],[0.368,0.065],[0.312,0.078],[0.318,0.076],[0.390,0.076],[0.394,0.074],[0.398,0.079],[0.405,0.074],[0.408,0.085],[0.412,0.091],[0.417,0.092],[0.425,0.078],[0.430,0.079],[0.433,0.076],[0.439,0.079],[0.447,0.076],[0.450,0.074],[0.460,0.074],[0.464,0.076],[0.476,0.089],[0.485,0.078],[0.490,0.071],[0.504,0.078],[0.512,0.078],[0.515,0.078],[0.519,0.078],[0.526,0.078],[0.536,0.078],[0.544,0.074],[0.551,0.071],[0.558,0.079],[0.565,0.074],[0.572,0.074],[0.581,0.085],[0.586,0.066],[0.611,0.081],[0.615,0.085],[0.620,0.074],[0.626,0.078],[0.643,0.074],[0.647,0.069],[0.654,0.065],[0.301,0.047],[0.312,0.040],[0.316,0.040],[0.342,0.055],[0.348,0.049],[0.351,0.047],[0.360,0.033],[0.425,0.056],[0.428,0.049],[0.437,0.049],[0.440,0.050],[0.444,0.049],[0.447,0.038],[0.451,0.035],[0.462,0.056],[0.469,0.045],[0.476,0.049],[0.479,0.045],[0.490,0.054],[0.503,0.042],[0.504,0.038],[0.515,0.056],[0.522,0.060],[0.526,0.056],[0.561,0.049],[0.565,0.035],[0.586,0.031],[0.337,0.013],[0.348,0.014],[0.369,0.017],[0.426,0.013],[0.433,0.031],[0.439,0.006],[0.455,0.009],[0.462,0.013],[0.460,0.020],[0.465,0.020],[0.472,0.024],[0.476,0.020],[0.494,0.022],[0.496,0.024],[0.514,0.002],[0.515,0.004],[0.529,0.017],[0.535,0.013],[0.546,0.006],[0.558,0.013],[0.565,0.008],[0.569,0.007],[0.576,0.008],[0.579,0.006],[0.583,0.013],[0.598,0.009],[0.603,0.006],[0.650,0.001],[0.677,0.014],[0.756,0.043]];

const lncTitles = ["cor=-0.15, p=0.035", "cor=0.36, p=1.9e-07", "cor=0.38, p=3.4e-08", "cor=0.28, p=6.5e-05"];
const mrnaTitles = ["cor=0.24, p=1.5e\u221205", "cor=0.29, p=1.4e\u221207", "cor=0.17, p=0.0024", "cor=0.23, p=3.5e\u221205"];
const mainTitle = "Module membership vs. gene significance";

// ---------------- helpers ----------------
const fmtSigned = (v: any) => String(v).replace(/-/g, "\u2212");
const range = (a: number, b: number, s: number) => {
  const out: number[] = [];
  for (let v = a; v <= b + 1e-9; v += s) out.push(Math.round(v * 1000) / 1000);
  return out;
};

function txt(x: number, y: number, text: string, fontSize: number, fontWeight: any = "normal", extra: any = {}) {
  return {
    type: "text",
    x,
    y,
    silent: true,
    z: 100,
    style: {
      text,
      fontSize,
      fontWeight,
      fontFamily: FONT,
      fill: "#000",
      align: "center",
      verticalAlign: "middle",
      ...extra,
    },
  };
}

function buildOption() {
  const o: any = { animation: false, grid: [], xAxis: [], yAxis: [], series: [], visualMap: [] };
  const g: any[] = [];

  const heatBlock = (cfg: any) => {
    const top = cfg.top, h = cfg.height;
    const gs = o.grid.length;
    o.grid.push({ left: cfg.sw[0], top, width: cfg.sw[1], height: h });
    o.xAxis.push({ gridIndex: gs, type: "value", min: 0, max: 1, show: false });
    o.yAxis.push({
      gridIndex: gs, type: "category", data: cfg.modules, inverse: true,
      axisLine: { show: false }, axisTick: { show: false }, splitLine: { show: false },
      axisLabel: { fontSize: cfg.rowFont, color: "#000", fontFamily: FONT, margin: 3 },
    });
    o.series.push({
      type: "bar", xAxisIndex: gs, yAxisIndex: gs, barWidth: "100%", silent: true,
      data: cfg.modules.map((m: string, i: number) => ({ value: 1, itemStyle: { color: cfg.colors[i] } })),
    });
    const gh = o.grid.length;
    o.grid.push({ left: cfg.hm[0], top, width: cfg.hm[1], height: h });
    o.xAxis.push({
      gridIndex: gh, type: "category", data: traitLabels,
      axisLine: { show: false }, axisTick: { show: false }, splitLine: { show: false },
      axisLabel: { fontSize: 14, fontWeight: "bold", color: "#000", fontFamily: FONT, margin: cfg.colMargin },
    });
    o.yAxis.push({ gridIndex: gh, type: "category", data: cfg.modules, inverse: true, show: false });
    const si = o.series.length;
    o.series.push({
      type: "heatmap", xAxisIndex: gh, yAxisIndex: gh, silent: true,
      data: cfg.cor.flatMap((row: number[], r: number) => row.map((v: number, c: number) => [c, r, v])),
      label: {
        show: true, fontSize: cfg.cellFont, lineHeight: cfg.cellFont + 1.3, color: "#111", fontFamily: FONT,
        formatter: (p: any) => {
          const [c, r, v] = p.value;
          return fmtSigned(v) + "\n(" + fmtSigned(cfg.p[r][c]) + ")";
        },
      },
      itemStyle: { borderWidth: 0 },
      emphasis: { disabled: true },
    });
    o.visualMap.push({
      type: "continuous", seriesIndex: si, min: -1, max: 1, calculable: false, orient: "vertical",
      left: cfg.cb[0], top: cfg.cb[1], itemWidth: cfg.cb[2], itemHeight: cfg.cb[3], padding: 0,
      inRange: { color: colorbarColors }, textStyle: { color: "#000" },
    });
    const gc = o.grid.length;
    o.grid.push({ left: cfg.cb[0], top: cfg.cb[1], width: cfg.cb[2], height: cfg.cb[3] });
    o.xAxis.push({ gridIndex: gc, type: "value", min: 0, max: 1, show: false });
    o.yAxis.push({
      gridIndex: gc, type: "value", position: "right", min: -1, max: 1, interval: 0.5,
      axisLine: { show: false }, splitLine: { show: false },
      axisTick: { show: true, length: 4, lineStyle: { color: "#000", width: 1 } },
      axisLabel: { fontSize: cfg.cbFont, color: "#000", fontFamily: FONT, margin: 6, formatter: (v: number) => fmtSigned(v) },
    });
    g.push({
      type: "rect", silent: true, z: 90,
      shape: { x: cfg.hm[0], y: top, width: cfg.hm[1], height: h },
      style: { fill: "none", stroke: "#8c8c8c", lineWidth: 1.3 },
    });
    g.push(txt(cfg.titleX, cfg.titleY, "Module\u2212trait relationships", cfg.titleFont, "bold"));
  };

  heatBlock({
    modules: lncModules, colors: lncModuleColors, cor: lncCor, p: lncP,
    top: 65, height: 301, sw: [64, 17], hm: [83, 237], cb: [325, 82, 7, 265],
    rowFont: 9.5, cellFont: 4.6, colMargin: 6, cbFont: 12, titleX: 217, titleY: 48, titleFont: 11,
  });
  heatBlock({
    modules: mrnaModules, colors: mrnaModuleColors, cor: mrnaCor, p: mrnaP,
    top: 67, height: 294, sw: [445, 15], hm: [463, 218], cb: [686, 84, 7, 258],
    rowFont: 8.8, cellFont: 4.2, colMargin: 9, cbFont: 10, titleX: 587, titleY: 50, titleFont: 10.2,
  });

  const scatter = (s: any) => {
    const gi = o.grid.length;
    o.grid.push({
      left: s.box[0], top: s.box[1], width: s.box[2], height: s.box[3],
      show: true, borderColor: "#808080", borderWidth: 1, backgroundColor: "transparent",
    });
    o.xAxis.push({
      gridIndex: gi, type: "value", min: s.xr[0], max: s.xr[1],
      axisLine: { show: false }, splitLine: { show: false },
      axisTick: { show: true, customValues: scatterXTicks, length: 4, lineStyle: { color: "#555" } },
      axisLabel: {
        customValues: scatterXTicks, formatter: (v: number) => v.toFixed(1),
        fontSize: s.xFont, color: "#111", fontFamily: FONT, margin: s.xMargin,
      },
      name: s.xName || "", nameLocation: "middle", nameGap: s.xNameGap || 0,
      nameTextStyle: { fontSize: 8, color: "#111", fontFamily: FONT },
    });
    o.yAxis.push({
      gridIndex: gi, type: "value", min: s.yr[0], max: s.yr[1],
      axisLine: { show: false }, splitLine: { show: false },
      axisTick: { show: true, customValues: s.yTicks, length: 4, lineStyle: { color: "#555" } },
      axisLabel: {
        customValues: s.yLabels || s.yTicks, formatter: (v: number) => v.toFixed(2), rotate: 90,
        fontSize: s.yFont, color: "#111", fontFamily: FONT, margin: s.yMargin,
      },
      name: s.yName, nameLocation: "middle", nameRotate: 90, nameGap: s.yNameGap,
      nameTextStyle: { fontSize: s.yNameFont, color: "#111", fontFamily: FONT },
    });
    o.series.push({
      type: "scatter", xAxisIndex: gi, yAxisIndex: gi, data: s.data, silent: true,
      symbol: "circle", symbolSize: s.lnc ? 4.6 : 5.2,
      itemStyle: s.lnc
        ? { color: "rgba(0,0,0,0)", borderColor: "#A83A3A", borderWidth: 0.8 }
        : { color: "rgba(255,255,175,0.45)", borderColor: "#F4F05C", borderWidth: 0.9 },
      emphasis: { disabled: true },
    });
    const cx = s.box[0] + s.box[2] / 2;
    g.push(txt(cx, s.titleY, mainTitle, s.titleFont, s.titleWeight));
    g.push(txt(cx, s.corY, s.cor, s.titleFont, s.titleWeight));
  };

  scatter({ lnc: true, data: lncAgeData, box: [81, 420, 241, 185], xr: [0.2709, 0.8558], yr: [-0.014, 0.3087],
    yTicks: range(0, 0.3, 0.05), yName: "Gene significance for age_at_initial_pathologic_diagnos",
    yNameFont: 8, yNameGap: 71, yFont: 7.5, yMargin: 7, xFont: 10, xMargin: 7,
    titleY: 406, corY: 416, cor: lncTitles[0], titleFont: 8.3, titleWeight: "normal" });
  scatter({ lnc: true, data: lncLymphData, box: [83, 679, 232, 183], xr: [0.2704, 0.842], yr: [-0.0167, 0.288],
    yTicks: range(0, 0.25, 0.05), yLabels: [0, 0.1, 0.2], yName: "Gene significance for lymphatic_invasion",
    yNameFont: 10.5, yNameGap: 25, yFont: 9, yMargin: 6.5, xFont: 10, xMargin: 9,
    titleY: 662, corY: 673, cor: lncTitles[1], titleFont: 9.2, titleWeight: "bold" });
  scatter({ lnc: true, data: lncTissueData, box: [86, 919, 226, 190], xr: [0.2725, 0.8375], yr: [-0.0158, 0.2848],
    yTicks: range(0, 0.25, 0.05), yName: "Gene significance for tissue_source_site",
    yNameFont: 9, yNameGap: 24.5, yFont: 7.5, yMargin: 7, xFont: 10, xMargin: 9,
    titleY: 905, corY: 916, cor: lncTitles[2], titleFont: 9, titleWeight: "bold" });
  scatter({ lnc: true, data: lncVenusData, box: [81, 1163, 232, 184], xr: [0.2729, 0.844], yr: [-0.0136, 0.3448],
    yTicks: range(0, 0.3, 0.05), yName: "Gene significance for venus_invasion",
    yNameFont: 9, yNameGap: 26, yFont: 8, yMargin: 8, xFont: 10, xMargin: 8,
    titleY: 1150, corY: 1160, cor: lncTitles[3], titleFont: 9, titleWeight: "bold" });

  const xName = "Module Membership in yellow module";
  scatter({ lnc: false, data: mrnaAgeData, box: [440, 416, 247, 179], xr: [0.281, 0.804], yr: [-0.0136, 0.2908],
    yTicks: range(0, 0.25, 0.05), yName: "Gene significance for age_at_initial_pathologic_diagnosis",
    yNameFont: 6.8, yNameGap: 27, yFont: 7.5, yMargin: 9, xFont: 8.5, xMargin: 6, xName, xNameGap: 18,
    titleY: 397, corY: 406, cor: mrnaTitles[0], titleFont: 8, titleWeight: "bold" });
  scatter({ lnc: false, data: mrnaLymphData, box: [436, 683, 246, 174], xr: [0.283, 0.802], yr: [-0.012, 0.338],
    yTicks: range(0, 0.3, 0.05), yName: "Gene significance for lymphatic_invasion",
    yNameFont: 6.8, yNameGap: 27, yFont: 7.5, yMargin: 10, xFont: 8.5, xMargin: 5, xName, xNameGap: 19,
    titleY: 665, corY: 673, cor: mrnaTitles[1], titleFont: 8, titleWeight: "bold" });
  scatter({ lnc: false, data: mrnaTumorData, box: [436, 929, 243, 181], xr: [0.283, 0.802], yr: [-0.0099, 0.2468],
    yTicks: range(0, 0.2, 0.05), yName: "Gene significance for tumor_residual_disease",
    yNameFont: 6.8, yNameGap: 27, yFont: 7.5, yMargin: 10, xFont: 8.5, xMargin: 6, xName, xNameGap: 20,
    titleY: 911, corY: 920, cor: mrnaTitles[2], titleFont: 8, titleWeight: "bold" });
  scatter({ lnc: false, data: mrnaVenusData, box: [436, 1173, 239, 179], xr: [0.28, 0.8066], yr: [-0.013, 0.3737],
    yTicks: range(0, 0.35, 0.05), yName: "Gene significance for venus_invasion",
    yNameFont: 6.8, yNameGap: 26, yFont: 7.5, yMargin: 7, xFont: 8.5, xMargin: 6, xName, xNameGap: 21,
    titleY: 1156, corY: 1164, cor: mrnaTitles[3], titleFont: 8, titleWeight: "bold" });

  g.push(txt(187, 10, "LncRNAs", 13.5, "bold"));
  g.push(txt(552, 10, "mRNAs", 13.5, "bold"));
  g.push({ type: "line", silent: true, shape: { x1: 68, y1: 25, x2: 337, y2: 25 }, style: { stroke: "#000", lineWidth: 1 } });
  g.push({ type: "line", silent: true, shape: { x1: 420, y1: 25, x2: 690, y2: 25 }, style: { stroke: "#000", lineWidth: 1 } });
  g.push(txt(8, 54, "a", 24, "bold"));
  g.push(txt(9, 407, "b", 26, "bold"));

  o.graphic = { elements: g };
  return o;
}

export default function App() {
  const ref = useRef<HTMLDivElement>(null);
  useEffect(() => {
    if (!ref.current) return;
    const chart = echarts.init(ref.current, null, { renderer: "svg" });
    chart.setOption(buildOption());
    return () => chart.dispose();
  }, []);
  return (
    <div
      ref={ref}
      style={{ position: "absolute", left: 0, top: 0, width: 719, height: 1382, background: "#fff" }}
    />
  );
}
